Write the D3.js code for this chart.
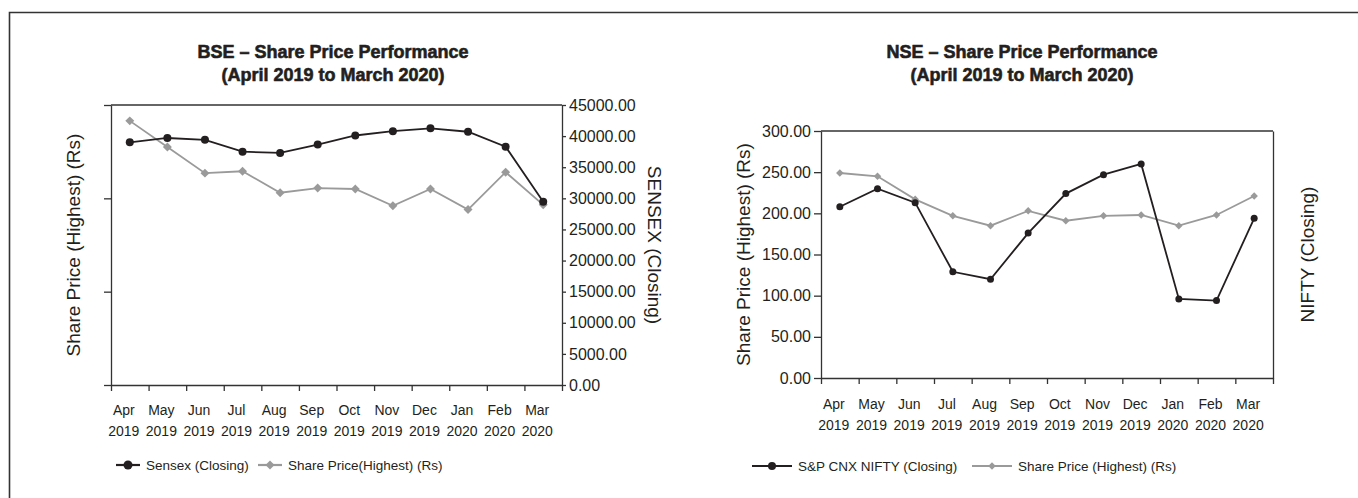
<!DOCTYPE html>
<html>
<head>
<meta charset="utf-8">
<script src="https://cdn.jsdelivr.net/npm/d3@7"></script>
<style>
  body { margin: 0; background: #fff; }
  svg { display: block; }
  text { font-family: Arial, "Liberation Sans", Helvetica, sans-serif; fill: #231f20; }
</style>
</head>
<body>
<svg id="chart" width="1358" height="498"></svg>
<script>
const months = ["Apr", "May", "Jun", "Jul", "Aug", "Sep", "Oct", "Nov", "Dec", "Jan", "Feb", "Mar"];
const monthYears = ["2019", "2019", "2019", "2019", "2019", "2019", "2019", "2019", "2019", "2020", "2020", "2020"];

// BSE
const bseSensex = [39000, 39700, 39400, 37500, 37300, 38650, 40100, 40800, 41250, 40700, 38300, 29450];
const bseHighest = [283, 255, 227, 229, 206, 211, 210, 192, 210, 188, 228, 193];
const sensexTicks = [0, 5000, 10000, 15000, 20000, 25000, 30000, 35000, 40000, 45000];
const bseLeftTicks = [0, 100, 200, 300];

// NSE
const nseNifty = [208, 230, 213, 129, 120, 176, 224, 247, 260, 96, 94, 194];
const nseHighest = [249, 245, 217, 197, 185, 203, 191, 197, 198, 185, 198, 221];
const nseLeftTicks = [0, 50, 100, 150, 200, 250, 300];

const ink = "#231f20";
const grey = "#9a9a9a";
const axisColor = "#333";

const svg = d3.select("#chart");

// outer frame (clipped by the page edge)
svg.append("path")
  .attr("d", "M9.5,498 V12.5 H1358")
  .attr("fill", "none")
  .attr("stroke", axisColor)
  .attr("stroke-width", 1.6);

function renderChart(cfg) {
  const g = svg.append("g");
  const x = d3.scaleBand().domain(months).range([cfg.x0, cfg.x1]);
  const xEdges = d3.scaleLinear().domain([0, months.length]).range([cfg.x0, cfg.x1]);
  const yL = d3.scaleLinear().domain(cfg.leftDomain).range([cfg.y1, cfg.y0]);
  const yR = d3.scaleLinear().domain(cfg.rightDomain).range([cfg.y1, cfg.y0]);
  const cx = (m) => x(m) + x.bandwidth() / 2;

  // title
  g.selectAll(".title")
    .data(cfg.title)
    .enter()
    .append("text")
    .attr("x", cfg.titleX)
    .attr("y", (d, i) => 58 + i * 23)
    .attr("text-anchor", "middle")
    .attr("font-size", 18)
    .attr("font-weight", "bold")
    .attr("stroke", ink)
    .attr("stroke-width", 0.6)
    .text((d) => d);

  // top border
  g.append("line")
    .attr("x1", cfg.x0).attr("x2", cfg.x1)
    .attr("y1", cfg.y0).attr("y2", cfg.y0)
    .attr("stroke", axisColor).attr("stroke-width", 1.3);

  // left axis
  const leftAxis = d3.axisLeft(yL)
    .tickValues(cfg.leftTicks)
    .tickSize(7)
    .tickSizeOuter(0)
    .tickPadding(3)
    .tickFormat(cfg.leftLabels ? d3.format(".2f") : "");
  const la = g.append("g").attr("transform", `translate(${cfg.x0},0)`).call(leftAxis);

  // right axis
  const rightAxis = d3.axisRight(yR)
    .tickValues(cfg.rightTicks)
    .tickSize(cfg.rightTicks.length ? 4 : 0)
    .tickSizeOuter(0)
    .tickPadding(3)
    .tickFormat(d3.format(".2f"));
  const ra = g.append("g").attr("transform", `translate(${cfg.x1},0)`).call(rightAxis);

  // bottom axis (ticks on category edges)
  const bottomAxis = d3.axisBottom(xEdges)
    .tickValues(d3.range(0, months.length + 1))
    .tickSize(6)
    .tickSizeOuter(0)
    .tickFormat("");
  const ba = g.append("g").attr("transform", `translate(0,${cfg.y1})`).call(bottomAxis);

  [la, ra, ba].forEach((a) => {
    a.selectAll("path, line").attr("stroke", axisColor).attr("stroke-width", 1.3);
    a.selectAll("text").attr("font-size", 16).attr("fill", ink).style("font-family", "Arial, 'Liberation Sans', sans-serif");
  });

  // category labels
  const lab = g.selectAll(".xlab")
    .data(months)
    .enter()
    .append("text")
    .attr("text-anchor", "middle")
    .attr("font-size", 14)
    .attr("transform", (d) => `translate(${cx(d) - 6},0)`);
  lab.append("tspan").attr("x", 0).attr("y", cfg.labelY).text((d) => d);
  lab.append("tspan").attr("x", 0).attr("y", cfg.labelY + 21).text((d, i) => monthYears[i]);

  // axis titles
  g.append("text")
    .attr("transform", `translate(${cfg.leftTitleX},${(cfg.y0 + cfg.y1) / 2}) rotate(-90)`)
    .attr("text-anchor", "middle")
    .attr("dy", "0.35em")
    .attr("font-size", 19)
    .text(cfg.leftTitle);
  g.append("text")
    .attr("transform", `translate(${cfg.rightTitleX},${(cfg.y0 + cfg.y1) / 2}) rotate(${cfg.rightRotate})`)
    .attr("text-anchor", "middle")
    .attr("dy", "0.35em")
    .attr("font-size", 19)
    .text(cfg.rightTitle);

  // grey series: share price (highest)
  const greyLine = d3.line().x((d, i) => cx(months[i])).y((d) => cfg.greyScale === "L" ? yL(d) : yR(d));
  g.append("path")
    .datum(cfg.greyData)
    .attr("d", greyLine)
    .attr("fill", "none")
    .attr("stroke", grey)
    .attr("stroke-width", 1.8);
  g.selectAll(".dia")
    .data(cfg.greyData)
    .enter()
    .append("path")
    .attr("d", d3.symbol(d3.symbolSquare, cfg.diaSize))
    .attr("transform", (d, i) => `translate(${cx(months[i])},${cfg.greyScale === "L" ? yL(d) : yR(d)}) rotate(45)`)
    .attr("fill", grey);

  // black series: index closing
  const blackY = (d) => cfg.blackScale === "L" ? yL(d) : yR(d);
  const blackLine = d3.line().x((d, i) => cx(months[i])).y(blackY);
  g.append("path")
    .datum(cfg.blackData)
    .attr("d", blackLine)
    .attr("fill", "none")
    .attr("stroke", ink)
    .attr("stroke-width", 1.8);
  g.selectAll(".dot")
    .data(cfg.blackData)
    .enter()
    .append("circle")
    .attr("cx", (d, i) => cx(months[i]))
    .attr("cy", blackY)
    .attr("r", cfg.dotR)
    .attr("fill", ink);

  // legend
  const lg = g.append("g").attr("transform", `translate(0,${cfg.legendY})`);
  const items = [
    { name: cfg.blackName, color: ink, dot: true, x: cfg.legendX[0], w: cfg.legendW },
    { name: cfg.greyName, color: grey, dot: false, x: cfg.legendX[1], w: cfg.legendW },
  ];
  items.forEach((it) => {
    lg.append("line")
      .attr("x1", it.x).attr("x2", it.x + it.w)
      .attr("stroke", it.color).attr("stroke-width", 2.2);
    if (it.dot) {
      lg.append("circle").attr("cx", it.x + it.w / 2).attr("r", cfg.dotR + 0.5).attr("fill", it.color);
    } else {
      lg.append("path")
        .attr("d", d3.symbol(d3.symbolSquare, cfg.diaSize))
        .attr("transform", `translate(${it.x + it.w / 2},0) rotate(45)`)
        .attr("fill", it.color);
    }
    lg.append("text")
      .attr("x", it.x + it.w + 6)
      .attr("dy", "0.35em")
      .attr("font-size", 13.5)
      .text(it.name);
  });
}

renderChart({
  x0: 111, x1: 562, y0: 105, y1: 385,
  title: ["BSE \u2013 Share Price Performance", "(April 2019 to March 2020)"],
  titleX: 333,
  leftDomain: [0, 300], leftTicks: bseLeftTicks, leftLabels: false,
  rightDomain: [0, 45000], rightTicks: sensexTicks,
  labelY: 415,
  leftTitle: "Share Price (Highest) (Rs)", leftTitleX: 73,
  rightTitle: "SENSEX (Closing)", rightTitleX: 655, rightRotate: 90,
  greyData: bseHighest, greyScale: "L",
  blackData: bseSensex, blackScale: "R",
  diaSize: 40, dotR: 4,
  blackName: "Sensex (Closing)", greyName: "Share Price(Highest) (Rs)",
  legendY: 465, legendX: [116, 258], legendW: 24,
});

renderChart({
  x0: 821, x1: 1273, y0: 131, y1: 378,
  title: ["NSE \u2013 Share Price Performance", "(April 2019 to March 2020)"],
  titleX: 1022,
  leftDomain: [0, 300], leftTicks: nseLeftTicks, leftLabels: true,
  rightDomain: [0, 300], rightTicks: [],
  labelY: 409,
  leftTitle: "Share Price (Highest) (Rs)", leftTitleX: 743,
  rightTitle: "NIFTY (Closing)", rightTitleX: 1307, rightRotate: -90,
  greyData: nseHighest, greyScale: "L",
  blackData: nseNifty, blackScale: "R",
  diaSize: 28, dotR: 3.5,
  blackName: "S&P CNX NIFTY (Closing)", greyName: "Share Price (Highest) (Rs)",
  legendY: 466, legendX: [752, 972], legendW: 40,
});
</script>
</body>
</html>
